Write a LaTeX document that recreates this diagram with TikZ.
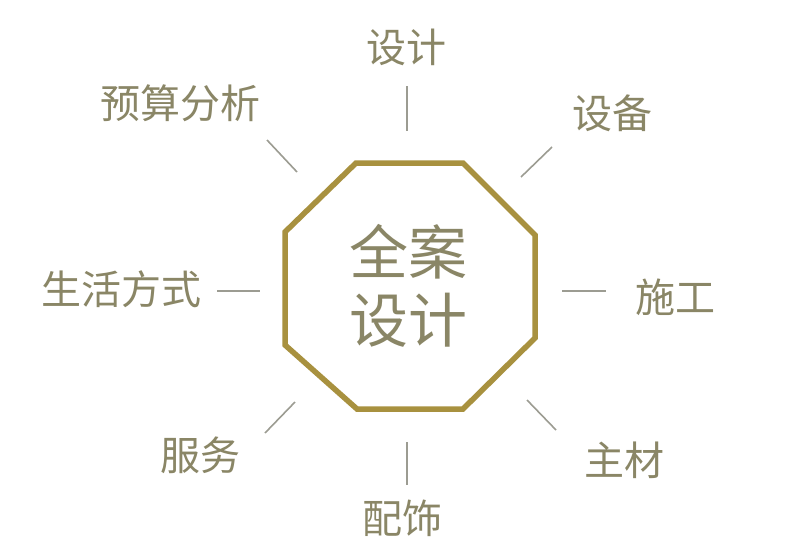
\documentclass[tikz,border=0pt]{standalone}
\usepackage{fontspec}
\newfontfamily\cjk{Noto Sans CJK SC}
\definecolor{gold}{HTML}{A8913F}
\definecolor{txt}{HTML}{8A8666}
\definecolor{tickc}{HTML}{9C9C92}
\begin{document}
\begin{tikzpicture}[x=1pt,y=-1pt,
  lbl/.style={font=\cjk\fontsize{40}{40}\selectfont, text=txt, inner sep=0pt},
  hub/.style={font=\cjk\fontsize{59}{68}\selectfont, text=txt, inner sep=0pt, align=center},
  tickline/.style={draw=tickc, line width=1.6pt},
  octa/.style={draw=gold, line width=5.5pt, line join=miter}]
\fill[white] (0,0) rectangle (800,541);
\path[use as bounding box] (0,0) rectangle (800,541);
% octagon
\draw[octa] (356,163) -- (463,163) -- (535,235) -- (535,338) -- (463,409)
  -- (357,409) -- (285,345) -- (285,232) -- cycle;
\node[hub] (hub) at (408,286) {全案\\设计};
% labels
\node[lbl] (sheji)  at (406,47)  {设计};
\node[lbl] (shebei) at (612,113) {设备};
\node[lbl] (shigong) at (675,297) {施工};
\node[lbl] (zhucai) at (624,460) {主材};
\node[lbl] (peishi) at (402,518) {配饰};
\node[lbl] (fuwu)   at (200,455) {服务};
\node[lbl] (shenghuo) at (121,289) {生活方式};
\node[lbl] (yusuan) at (180,103) {预算分析};
% tick endpoints
\coordinate (t1a) at (407,86);  \coordinate (t1b) at (407,131);
\coordinate (t2a) at (552,147); \coordinate (t2b) at (521,177);
\coordinate (t3a) at (562,291); \coordinate (t3b) at (606,291);
\coordinate (t4a) at (527,400); \coordinate (t4b) at (556,430);
\coordinate (t5a) at (407,442); \coordinate (t5b) at (407,485);
\coordinate (t6a) at (295,402); \coordinate (t6b) at (265,433);
\coordinate (t7a) at (217,291); \coordinate (t7b) at (260,291);
\coordinate (t8a) at (267,140); \coordinate (t8b) at (297,172);
\draw[tickline] (t1a) -- (t1b);
\draw[tickline] (t2a) -- (t2b);
\draw[tickline] (t3a) -- (t3b);
\draw[tickline] (t4a) -- (t4b);
\draw[tickline] (t5a) -- (t5b);
\draw[tickline] (t6a) -- (t6b);
\draw[tickline] (t7a) -- (t7b);
\draw[tickline] (t8a) -- (t8b);
\end{tikzpicture}
\end{document}
